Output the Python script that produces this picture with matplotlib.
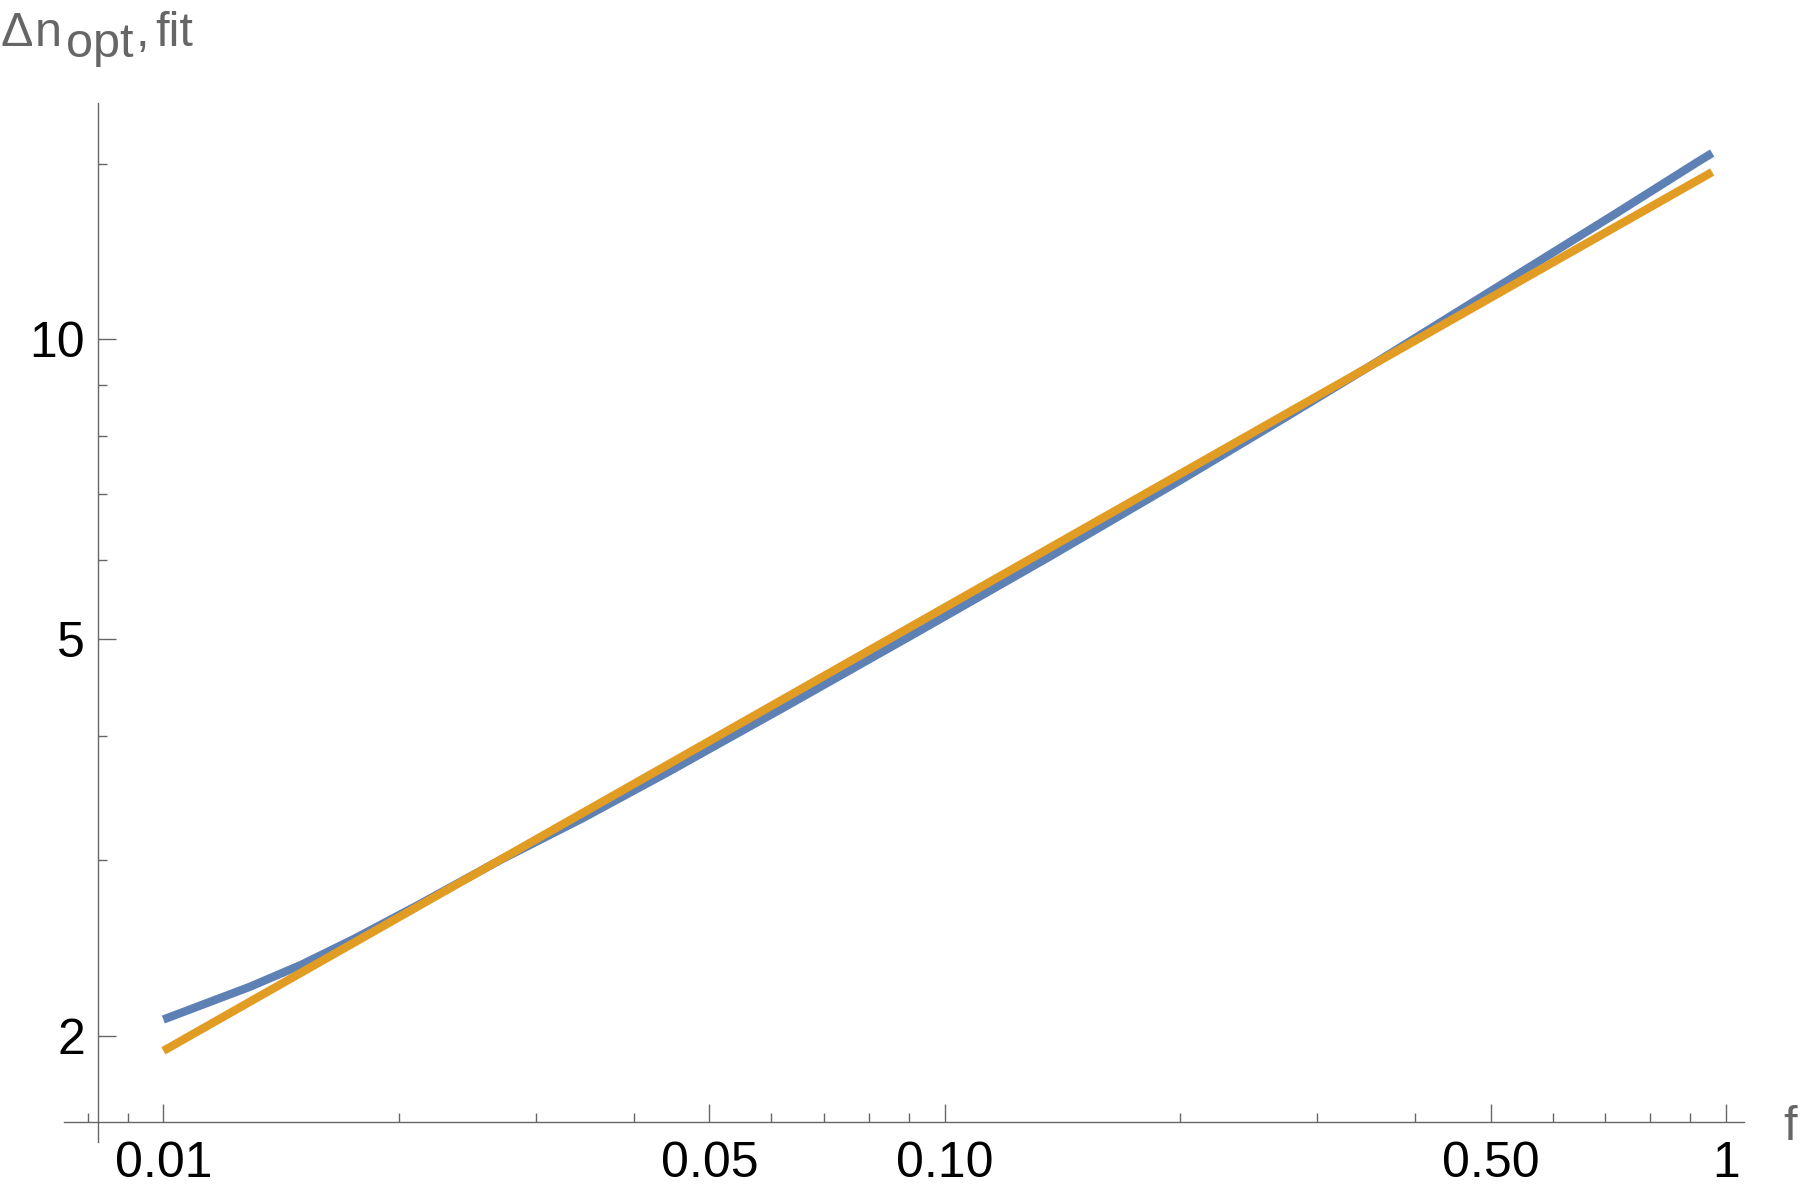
import numpy as np
import matplotlib
matplotlib.use("Agg")
import matplotlib.pyplot as plt
from matplotlib.ticker import FixedLocator, FixedFormatter, NullFormatter

plt.rcParams['font.family'] = ['Liberation Sans', 'DejaVu Sans']

# ---- data ----
f_opt = [0.01, 0.0115, 0.0129, 0.015, 0.0175, 0.021, 0.027, 0.0344, 0.0441,
         0.062, 0.092, 0.136, 0.2, 0.27, 0.35, 0.53, 0.72, 0.92, 0.96]
dn_opt = [2.076, 2.164, 2.239, 2.355, 2.499, 2.695, 3.002, 3.306, 3.673,
          4.263, 5.077, 6.047, 7.216, 8.306, 9.397, 11.50, 13.35, 15.07, 15.38]

f_fit = [0.01, 0.96]
dn_fit = [1.931, 14.72]

x_major = [0.01, 0.05, 0.1, 0.5, 1]
x_major_labels = ['0.01', '0.05', '0.10', '0.50', '1']
x_minor = [0.008, 0.009, 0.02, 0.03, 0.04, 0.06, 0.07, 0.08, 0.09,
           0.2, 0.3, 0.4, 0.6, 0.7, 0.8, 0.9]
y_major = [2, 5, 10]
y_major_labels = ['2', '5', '10']
y_minor = [3, 4, 6, 7, 8, 9, 15]

W, H = 1800, 1192
fig = plt.figure(figsize=(W / 100, H / 100), dpi=100)
ax = fig.add_axes([0, 0, 1, 1])
ax.set_xscale('log')
ax.set_yscale('log')
ax.set_xlim(10 ** -2.2091, 10 ** 0.0947)
ax.set_ylim(10 ** 0.1441, 10 ** 1.3406)

axis_col = '#666666'
for s in ['top', 'right']:
    ax.spines[s].set_visible(False)
ax.spines['left'].set_position(('data', 0.00825))
ax.spines['left'].set_bounds(1.563, 17.27)
ax.spines['bottom'].set_position(('data', 1.639))
ax.spines['bottom'].set_bounds(0.00746, 1.054)
for s in ['left', 'bottom']:
    ax.spines[s].set_color(axis_col)
    ax.spines[s].set_linewidth(1.0)

ax.xaxis.set_major_locator(FixedLocator(x_major))
ax.xaxis.set_major_formatter(FixedFormatter(x_major_labels))
ax.xaxis.set_minor_locator(FixedLocator(x_minor))
ax.xaxis.set_minor_formatter(NullFormatter())
ax.yaxis.set_major_locator(FixedLocator(y_major))
ax.yaxis.set_major_formatter(FixedFormatter(y_major_labels))
ax.yaxis.set_minor_locator(FixedLocator(y_minor))
ax.yaxis.set_minor_formatter(NullFormatter())

ax.tick_params(which='major', direction='in', length=12.7, width=1.0,
               color=axis_col, labelsize=36, labelcolor='black')
ax.tick_params(which='minor', direction='in', length=6.3, width=1.0,
               color=axis_col)
ax.tick_params(axis='x', which='major', pad=14)
ax.tick_params(axis='y', which='major', pad=9.5)

ax.plot(f_opt, dn_opt, color='#5E81B5', lw=6, solid_capstyle='butt',
        solid_joinstyle='round', clip_on=False)
ax.plot(f_fit, dn_fit, color='#E19C24', lw=6, solid_capstyle='butt',
        clip_on=False)

lab_col = '#666666'


def ftext(x, y, s, **kw):
    fig.text(x / W, 1 - y / H, s, color=lab_col, va='baseline', ha='left', **kw)


fs_lab = 35
ftext(0, 46, 'Δ', fontsize=fs_lab)
ftext(35, 46, 'n', fontsize=fs_lab)
ftext(66, 57, 'opt', fontsize=fs_lab)
ftext(136, 46, ',', fontsize=fs_lab)
ftext(155, 46, 'fit', fontsize=fs_lab)
ftext(1783, 1140, 'f', fontsize=fs_lab)

fig.savefig('out.png', dpi=100, facecolor='white')
